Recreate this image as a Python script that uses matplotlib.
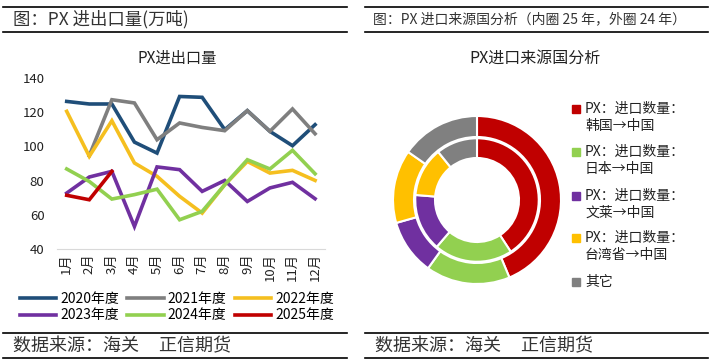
import matplotlib.pyplot as plt
from matplotlib.lines import Line2D
import numpy as np

plt.rcParams['font.family'] = ['Noto Sans CJK SC', 'DejaVu Sans']

months = ['1月', '2月', '3月', '4月', '5月', '6月', '7月', '8月', '9月', '10月', '11月', '12月']
y2020 = [126.3, 124.8, 124.8, 102.5, 96.1, 129.2, 128.7, 109.8, 120.9, 108.8, 100.4, 112.7]
y2021 = [np.nan, 94.6, 127.3, 125.4, 103.9, 113.7, 111.1, 109.2, 120.9, 108.8, 121.9, 107.4]
y2022 = [120.5, 94.2, 115.0, 90.3, 82.5, 70.8, 61.0, 77.6, 91.2, 84.4, 86.0, 80.1]
y2023 = [72.7, 82.1, 85.4, 53.2, 88.0, 86.4, 73.7, 80.1, 67.8, 75.7, 79.0, 69.4]
y2024 = [86.8, 79.5, 69.2, 71.8, 75.0, 57.1, 62.0, 77.6, 92.2, 86.8, 97.7, 84.0]
y2025 = [71.4, 68.8, 85.4]

series = [('2020年度', y2020, '#1f4e79'),
          ('2021年度', y2021, '#7f7f7f'),
          ('2022年度', y2022, '#f5bf1f'),
          ('2023年度', y2023, '#7030a0'),
          ('2024年度', y2024, '#92d050'),
          ('2025年度', y2025, '#c00000')]

src_line1 = ['PX：进口数量：', 'PX：进口数量：', 'PX：进口数量：', 'PX：进口数量：', '其它']
src_line2 = ['韩国→中国', '日本→中国', '文莱→中国', '台湾省→中国', '']
src_colors = ['#c00000', '#92d050', '#7030a0', '#ffc000', '#808080']
share24 = [43.7, 16.2, 10.7, 14.1, 15.3]   # outer ring
share25 = [40.8, 20.5, 15.0, 12.9, 10.8]   # inner ring

W, H = 713, 364
fig = plt.figure(figsize=(W / 100, H / 100), dpi=100)

def fx(px):
    return px / W

def fy(py):
    return 1 - py / H

# header / footer rules
for x0, x1 in [(3, 347), (365, 708)]:
    for yy in [7, 32, 333, 358]:
        fig.add_artist(Line2D([fx(x0), fx(x1)], [fy(yy), fy(yy)], color='black', lw=1.2))

fig.text(fx(13), fy(19), '图：PX 进出口量(万吨)', fontsize=12.5, va='center', color='#333333')
fig.text(fx(373), fy(19), '图：PX 进口来源国分析（内圈 25 年，外圈 24 年）', fontsize=10, va='center', color='#333333')
fig.text(fx(13), fy(346), '数据来源：海关     正信期货', fontsize=13, va='center', color='#333333')
fig.text(fx(375), fy(346), '数据来源：海关     正信期货', fontsize=13, va='center', color='#333333')

# left: line chart
ax = fig.add_axes([fx(57), fy(249), fx(325 - 57), (249 - 78) / H])
x = np.arange(1, 13)
handles = {}
for name, vals, col in series:
    h, = ax.plot(x[:len(vals)], vals, color=col, lw=2.6, label=name, solid_joinstyle='miter')
    handles[name] = h
ax.set_xlim(0.57, 12.44)
ax.set_ylim(40, 140)
ax.set_yticks(range(40, 141, 20))
ax.set_xticks(x)
ax.set_xticklabels(months, rotation=90, fontsize=9.5)
ax.tick_params(axis='both', length=0, labelsize=9.5, colors='#222222')
ax.tick_params(axis='y', pad=9)
ax.tick_params(axis='x', pad=3)
for s in ['top', 'right', 'left']:
    ax.spines[s].set_visible(False)
ax.spines['bottom'].set_color('#d9d9d9')
fig.text(fx(177), fy(58), 'PX进出口量', fontsize=11, ha='center', va='center', color='#222222')

order = ['2020年度', '2023年度', '2021年度', '2024年度', '2022年度', '2025年度']
fig.legend([handles[n] for n in order], order, ncol=3, loc='center',
           bbox_to_anchor=(fx(177), fy(307)), frameon=False, fontsize=10,
           handlelength=2.6, columnspacing=0.6, handletextpad=0.3, labelspacing=0.2)

# right: donut
R = 84
axp = fig.add_axes([fx(477 - 90), fy(200 + 90), fx(180), 180 / H])
axp.pie(share24, colors=src_colors, radius=1.0, startangle=90, counterclock=False,
        wedgeprops=dict(width=0.25, edgecolor='white', linewidth=1.5))
axp.pie(share25, colors=src_colors, radius=0.735, startangle=90, counterclock=False,
        wedgeprops=dict(width=0.235, edgecolor='white', linewidth=1.5))
axp.set_xlim(-90 / R, 90 / R)
axp.set_ylim(-90 / R, 90 / R)
axp.set_aspect('equal')
axp.axis('off')
fig.text(fx(535), fy(58), 'PX进口来源国分析', fontsize=11.5, ha='center', va='center', color='#222222')

# legend for donut
ys = [109, 152, 196, 238, 282]
for l1, l2, col, yy in zip(src_line1, src_line2, src_colors, ys):
    fig.add_artist(plt.Rectangle((fx(572), fy(yy) - 4 / H), 8 / W, 8 / H,
                                 color=col, transform=fig.transFigure))
    fig.text(fx(585), fy(yy), l1, fontsize=10, va='center', color='#222222')
    if l2:
        fig.text(fx(585), fy(yy + 17), l2, fontsize=10, va='center', color='#222222')

fig.savefig('out.png', dpi=100)
